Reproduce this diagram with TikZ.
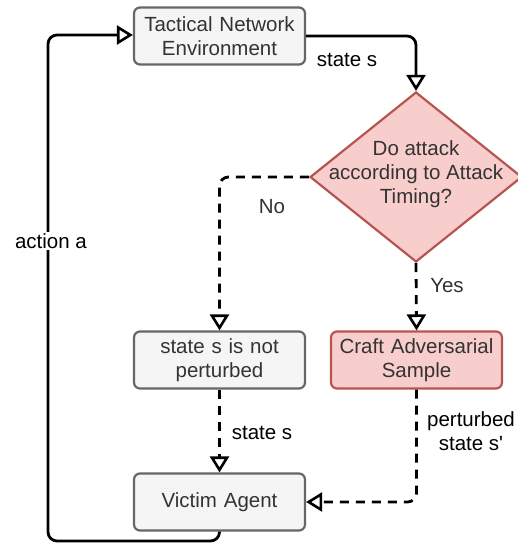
\documentclass[tikz,border=0pt]{standalone}
\usepackage{fontspec}
\setmainfont{Liberation Sans}
\usetikzlibrary{arrows.meta,shapes.geometric}
\definecolor{boxfill}{HTML}{F5F5F5}
\definecolor{boxline}{HTML}{666666}
\definecolor{boxtext}{HTML}{333333}
\definecolor{redfill}{HTML}{F8CECC}
\definecolor{redline}{HTML}{B85450}
\tikzset{
  every node/.style={font=\fontsize{20.5}{24}\selectfont},
  procbox/.style={draw=boxline, fill=boxfill, text=boxtext, line width=2.2pt,
    rounded corners=6pt, minimum width=171pt, minimum height=57pt,
    text width=165pt, align=center, inner sep=0pt},
  redbox/.style={procbox, draw=redline, fill=redfill},
  decision/.style={diamond, draw=redline, fill=redfill, line width=2.2pt,
    minimum width=212pt, minimum height=170pt, inner sep=0pt},
  tip/.tip={Triangle[open, length=16pt, width=19pt, line width=2.6pt]},
  flow/.style={line width=2.8pt, rounded corners=9pt, -tip},
  dflow/.style={flow, dash pattern=on 9pt off 7pt},
  lbl/.style={align=center, inner sep=1pt},
}
\begin{document}
\begin{tikzpicture}[x=1pt, y=-1pt]
  \useasboundingbox (0,0) rectangle (518,545);

  % process and decision nodes
  \node[procbox] (env) at (219.5,36) {Tactical Network\\Environment};
  \node[decision] (dec) at (416,177) {};
  \node[lbl, text=boxtext] (dectext) at (416,174) {Do attack\\according to Attack\\Timing?};
  \node[procbox] (keep) at (219.5,360) {state s is not\\perturbed};
  \node[redbox] (craft) at (416.5,360) {Craft Adversarial\\Sample};
  \node[procbox] (victim) at (219.5,502) {Victim Agent};

  % corner points of the routed connectors
  \coordinate (c1) at (dec.north |- env.east);
  \coordinate (c2) at (keep.north |- dec.west);
  \coordinate (c3) at (craft.south |- victim.east);
  \coordinate (c4) at (219.5,541);
  \coordinate (c5) at (48,541);
  \coordinate (c6) at (48,35);

  % connectors
  \draw[flow] (env.east) -- (c1) -- (dec.north);
  \draw[dflow] (dec.west) -- (c2) -- (keep.north);
  \draw[dflow] (dec.south) -- (craft.north);
  \draw[dflow] (keep.south) -- (victim.north);
  \draw[dflow] (craft.south) -- (c3) -- (victim.east);
  \draw[flow] (victim.south) -- (c4) -- (c5) -- (c6) -- (env.west |- c6);

  % connector labels
  \node[lbl] (ls1) at (347,60) {state s};
  \node[lbl, text=boxtext] (lno) at (272,207) {No};
  \node[lbl, text=boxtext] (lyes) at (447,286) {Yes};
  \node[lbl] (ls2) at (262,433) {state s};
  \node[lbl] (lpert) at (471,431) {perturbed\\state s\textquotesingle};
  \node[lbl, fill=white] (lact) at (51,241) {action a};
\end{tikzpicture}
\end{document}
